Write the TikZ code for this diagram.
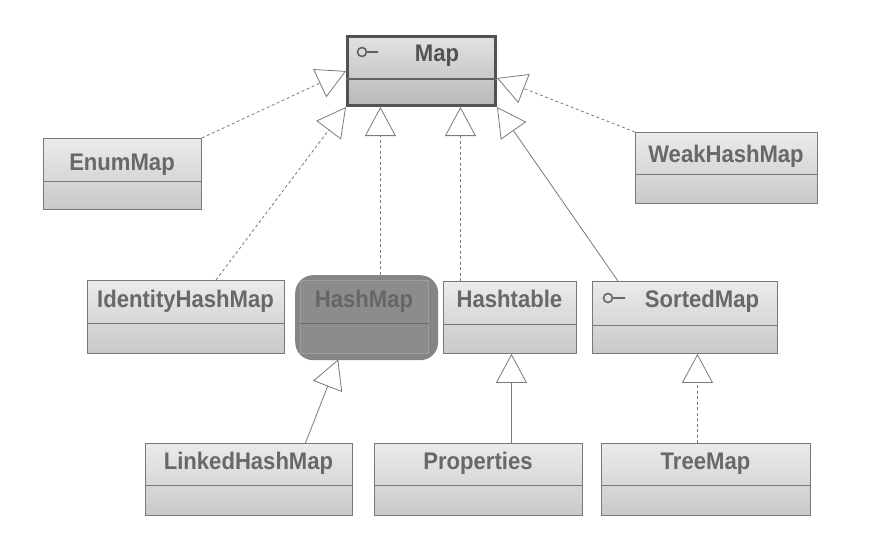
\documentclass[tikz,border=0pt]{standalone}
\usepackage{fontspec}
\newfontfamily\umlfont[FakeStretch=0.92]{Liberation Sans}
\usetikzlibrary{arrows.meta,calc}
\definecolor{boxline}{HTML}{787878}
\definecolor{txtgray}{HTML}{686868}
\definecolor{boxtop}{HTML}{EBEBEB}
\definecolor{boxbot}{HTML}{C9C9C9}
\definecolor{maptop}{HTML}{E2E2E2}
\definecolor{mapbot}{HTML}{B8B8B8}
\definecolor{hashfill}{HTML}{8C8C8C}
\definecolor{hashblob}{HTML}{858585}
\definecolor{connline}{HTML}{7A7A7A}
\tikzset{
  classbox/.style={draw=boxline, line width=0.9pt, top color=boxtop, bottom color=boxbot,
    inner sep=0pt, anchor=north west},
  mapbox/.style={draw=black!68, line width=3pt, top color=maptop, bottom color=mapbot,
    inner sep=0pt, anchor=north west},
  divider/.style={draw=boxline, line width=0.9pt},
  classname/.style={font=\umlfont\bfseries\fontsize{24}{28}\selectfont, text=txtgray,
    inner sep=0pt, anchor=base},
  gen/.style={draw=connline, line width=0.8pt,
    -{Triangle[length=29pt,width=31pt,fill=white,line width=0.8pt]}},
  impl/.style={gen, dash pattern=on 3pt off 2.5pt},
  iface/.style={draw=txtgray, line width=1.6pt}
}
\begin{document}
\begin{tikzpicture}[x=1pt,y=-1pt]
\useasboundingbox[fill=white] (0,0) rectangle (876,535);

% ---- class boxes
\node[mapbox, minimum width=148pt, minimum height=69pt] (map) at (346,35) {};
\node[classbox, minimum width=158pt, minimum height=71pt] (enum) at (43,138) {};
\node[classbox, minimum width=182pt, minimum height=71pt] (weak) at (635,132) {};
\node[classbox, minimum width=197pt, minimum height=73pt] (ident) at (87,280) {};
\node[draw=none, fill=hashblob, rounded corners=18pt, minimum width=143pt, minimum height=85pt,
      inner sep=0pt, anchor=north west] (hashshadow) at (295,275) {};
\node[draw=black!38, line width=0.8pt, fill=hashfill, inner sep=0pt, anchor=north west,
      minimum width=128pt, minimum height=73pt] (hash) at (300,280) {};
\node[classbox, minimum width=133pt, minimum height=72pt] (htab) at (443,281) {};
\node[classbox, minimum width=185pt, minimum height=72pt] (sorted) at (592,281) {};
\node[classbox, minimum width=207pt, minimum height=72pt] (linked) at (145,443) {};
\node[classbox, minimum width=208pt, minimum height=72pt] (props) at (374,443) {};
\node[classbox, minimum width=209pt, minimum height=72pt] (tree) at (601,443) {};

% ---- dividers
\draw[divider, draw=black!62, line width=1.2pt] (map.west |- 0,79) -- (map.east |- 0,79);
\draw[divider] (enum.west |- 0,181) -- (enum.east |- 0,181);
\draw[divider] (weak.west |- 0,174) -- (weak.east |- 0,174);
\draw[divider] (ident.west |- 0,323) -- (ident.east |- 0,323);
\draw[divider, draw=black!58] (hash.west |- 0,323) -- (hash.east |- 0,323);
\draw[divider] (htab.west |- 0,324) -- (htab.east |- 0,324);
\draw[divider] (sorted.west |- 0,325) -- (sorted.east |- 0,325);
\draw[divider] (linked.west |- 0,485) -- (linked.east |- 0,485);
\draw[divider] (props.west |- 0,485) -- (props.east |- 0,485);
\draw[divider] (tree.west |- 0,485) -- (tree.east |- 0,485);

% ---- names
\node[classname, text=black!68] (mapT) at (437,62) {Map};
\node[classname] (enumT) at (122,170) {EnumMap};
\node[classname] (weakT) at (726,162) {WeakHashMap};
\node[classname] (identT) at (185.5,307) {IdentityHashMap};
\node[classname, text=black!60] (hashT) at (364,307) {HashMap};
\node[classname] (htabT) at (509.5,307) {Hashtable};
\node[classname] (sortedT) at (702,307) {SortedMap};
\node[classname] (linkedT) at (248.5,469) {LinkedHashMap};
\node[classname] (propsT) at (478,469) {Properties};
\node[classname] (treeT) at (705.5,469) {TreeMap};

% ---- interface icons
\draw[iface, draw=black!62] (362,52) circle (4.5pt) (366.5,52) -- (378,52);
\draw[iface] (608,298) circle (4.5pt) (612.5,298) -- (625,298);

% ---- connectors
\coordinate (identTop) at ($(ident.north)+(30,0)$);
\coordinate (hashTop) at ($(hash.north)+(16,0)$);
\coordinate (htabTop) at ($(htab.north)+(-49.5,0)$);
\coordinate (sortedTop) at ($(sorted.north)+(-67,0)$);
\coordinate (linkedTop) at ($(linked.north)+(56.5,0)$);
\coordinate (propsTop) at ($(props.north)+(33,0)$);
\coordinate (treeTop) at ($(tree.north)+(-8.5,0)$);

\draw[impl] (enum.north east) -- (map.west);
\draw[impl] (weak.north west) -- ($(map.east)+(0,7)$);
\draw[impl] (identTop) -- (map.south west);
\draw[impl] (hashTop) -- (hashTop |- map.south);
\draw[impl] (htabTop) -- (htabTop |- map.south);
\draw[gen] (sortedTop) -- (map.south east);
\draw[gen] (linkedTop) -- ($(hashshadow.south)+(-28.5,-1)$);
\draw[gen] (propsTop) -- (propsTop |- htab.south);
\draw[impl] (treeTop) -- (treeTop |- sorted.south);
\end{tikzpicture}
\end{document}
